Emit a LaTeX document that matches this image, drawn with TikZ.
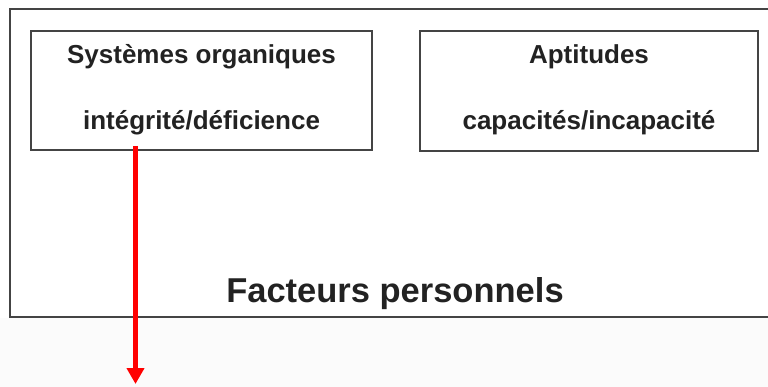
\documentclass[tikz,border=0pt]{standalone}
\usepackage{fontspec}
\setmainfont{Liberation Sans}
\usetikzlibrary{arrows.meta}
\definecolor{linegray}{HTML}{444444}
\definecolor{txt}{HTML}{222222}
\definecolor{bggray}{HTML}{FBFBFB}
\tikzset{
  boxstyle/.style={draw=linegray, line width=2pt},
  boxtext/.style={anchor=base, text=txt, font=\fontsize{26}{26}\selectfont\bfseries, inner sep=0pt},
  bigtext/.style={anchor=base, text=txt, font=\fontsize{34.5}{34.5}\selectfont\bfseries, inner sep=0pt},
  redarrow/.style={draw=red, line width=4.5pt, -{Triangle[length=16pt,width=17pt]}}
}
\begin{document}
\begin{tikzpicture}[x=1pt,y=-1pt]
\useasboundingbox (0,0) rectangle (768,387);
\fill[bggray] (0,318) rectangle (768,387);
\begin{scope}
\clip (0,0) rectangle (768,387);
\draw[boxstyle] (10,9) rectangle (790,317);
\end{scope}
\draw[boxstyle] (31,31) rectangle (372,150);
\draw[boxstyle] (420,31) rectangle (758,151);
\node[boxtext] (so) at (201.5,64) {Systèmes organiques};
\node[boxtext] (id) at (201.5,130) {intégrité/déficience};
\node[boxtext] (ap) at (589,64) {Aptitudes};
\node[boxtext] (ci) at (589,130) {capacités/incapacité};
\node[bigtext] (fp) at (395,302) {Facteurs personnels};
\coordinate (lb) at (31,31);
\coordinate (src) at (135.5,146);
\coordinate (dst) at (135.5,384);
\draw[redarrow] (src) -- (dst);
\end{tikzpicture}
\end{document}
